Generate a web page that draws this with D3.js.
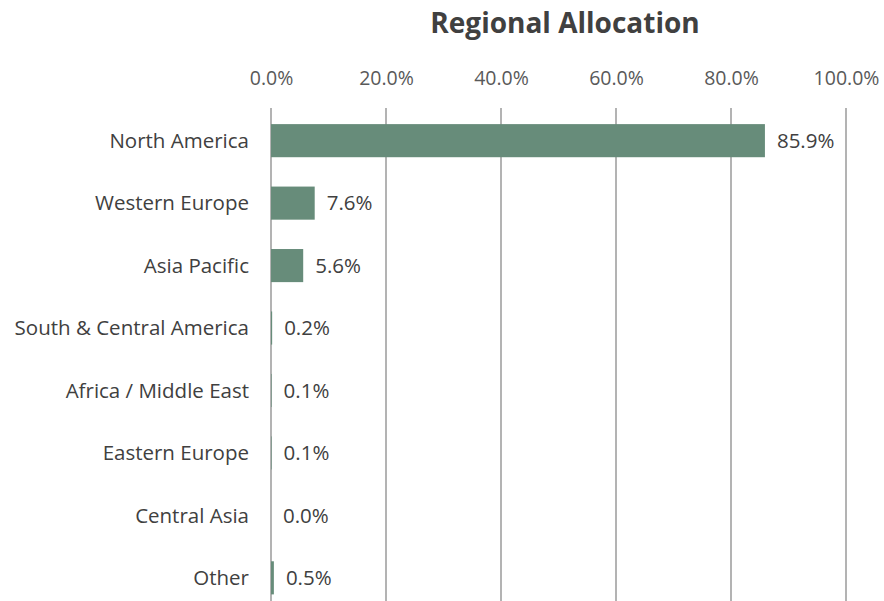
<!DOCTYPE html>
<html>
<head>
<meta charset="utf-8">
<script src="https://cdn.jsdelivr.net/npm/d3@7"></script>
<style>
  body { margin: 0; background: white; }
  text { font-family: "Open Sans", sans-serif; }
</style>
</head>
<body>
<script>
const regions = ['North America', 'Western Europe', 'Asia Pacific', 'South & Central America',
                 'Africa / Middle East', 'Eastern Europe', 'Central Asia', 'Other'];
const shares = [85.9, 7.6, 5.6, 0.2, 0.1, 0.1, 0.0, 0.5];
const tickValues = [0, 20, 40, 60, 80, 100];

const data = regions.map((r, i) => ({region: r, value: shares[i]}));

const width = 884,
      height = 601;

const xScale = d3.scaleLinear()
                .domain([0, 100])
                .range([271, 846]);

const yScale = d3.scaleBand()
                .domain(regions)
                .range([108.5, 610])
                .paddingInner(0.47)
                .paddingOuter(0.25);

const svg = d3.select('body')
              .append('svg')
              .attr('width', width)
              .attr('height', height);

svg.append('text') // title
    .attr('x', 565)
    .attr('y', 33)
    .attr('text-anchor', 'middle')
    .style('font-size', '28px')
    .style('font-weight', 'bold')
    .style('fill', '#404040')
    .text('Regional Allocation');

// gridlines
svg.append('g')
    .selectAll('line')
    .data(tickValues)
    .enter()
      .append('line')
      .attr('x1', d => xScale(d))
      .attr('x2', d => xScale(d))
      .attr('y1', 108)
      .attr('y2', height)
      .style('stroke', '#ababab')
      .style('stroke-width', 1.8);

// top axis labels
const xAxis = d3.axisTop(xScale)
                .tickValues(tickValues)
                .tickSize(0)
                .tickPadding(0)
                .tickFormat(d => d.toFixed(1) + '%');

svg.append('g')
    .attr('transform', 'translate(0, 107)')
    .call(xAxis)
    .call(g => g.select('.domain').remove())
    .selectAll('text')
      .attr('y', -22)
      .style('font-size', '19.5px')
      .style('fill', '#595959');

svg.append('g')
    .selectAll('rect')
    .data(data)
    .enter()
      .append('rect')
      .attr('x', xScale(0))
      .attr('y', d => yScale(d.region))
      .attr('width', d => xScale(d.value) - xScale(0))
      .attr('height', yScale.bandwidth())
      .style('fill', '#678c7a');

// category labels
svg.append('g')
    .selectAll('text')
    .data(data)
    .enter()
      .append('text')
      .attr('x', xScale(0) - 22)
      .attr('y', d => yScale(d.region) + yScale.bandwidth() / 2)
      .attr('dy', '0.35em')
      .attr('text-anchor', 'end')
      .style('font-size', '20.5px')
      .style('fill', '#404040')
      .text(d => d.region);

// value labels
svg.append('g')
    .selectAll('text')
    .data(data)
    .enter()
      .append('text')
      .attr('x', d => xScale(d.value) + 12)
      .attr('y', d => yScale(d.region) + yScale.bandwidth() / 2)
      .attr('dy', '0.35em')
      .style('font-size', '20.5px')
      .style('fill', '#404040')
      .text(d => d.value.toFixed(1) + '%');
</script>
</body>
</html>
